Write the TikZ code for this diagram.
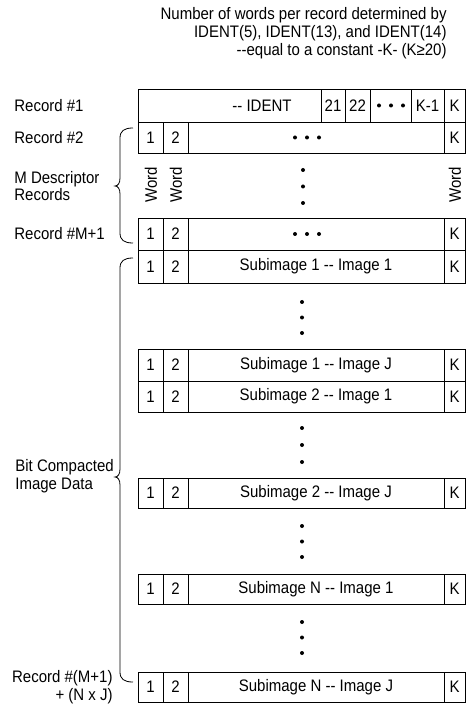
\documentclass[tikz,border=0pt]{standalone}
\usepackage{fontspec}
\setmainfont{Liberation Sans}[FakeStretch=0.9]
% one table cell: name, x1, x2, y1, y2, text
\newcommand\cellat[6]{%
  \node[cellbox, minimum width={(#3-#2)*0.75pt}, minimum height={(#5-#4)*0.75pt}]
    (#1) at ({(#2+#3)/2},{(#4+#5)/2}) {#6};}
% a record row with words 1, 2, ..., K
\newcommand\recrow[4]{%
  \cellat{#1a}{138}{163}{#2}{#3}{1}
  \cellat{#1b}{163}{188}{#2}{#3}{2}
  \cellat{#1m}{188}{444}{#2}{#3}{#4}
  \cellat{#1k}{444}{465}{#2}{#3}{K}}
% three dots in a row / in a column
\newcommand\rowdots[3]{%
  \node[dotmark] (#1l) at ({#2-12},#3) {};
  \node[dotmark] (#1c) at (#2,#3) {};
  \node[dotmark] (#1r) at ({#2+12},#3) {};}
\newcommand\coldots[4]{%
  \node[dotmark] (#1t) at (#2,#3) {};
  \node[dotmark] (#1c) at (#2,{(#3+#4)/2}) {};
  \node[dotmark] (#1b) at (#2,#4) {};}
\begin{document}
\begin{tikzpicture}[x=0.75pt,y=-0.75pt,line width=0.6pt,
  txt/.style={inner sep=0pt,font=\fontsize{12.5}{13.3}\selectfont},
  cellbox/.style={draw,rectangle,txt},
  lbl/.style={txt,anchor=west,align=left},
  dotmark/.style={circle,fill,inner sep=0pt,minimum size=3pt}]
\useasboundingbox (0,0) rectangle (467,705);

% heading
\node[txt,anchor=east,align=right] (head) at (447,33)
  {Number of words per record determined by\\
   IDENT(5), IDENT(13), and IDENT(14)\\
   {-}{-}equal to a constant -K- (K≥20)};

% record 1 (identification record)
\cellat{r1main}{138}{321}{89}{122}{}
\node[txt] (ident) at (262,105.5) {{-}{-} IDENT};
\cellat{r1w21}{321}{345}{89}{122}{21}
\cellat{r1w22}{345}{370}{89}{122}{22}
\cellat{r1dots}{370}{411}{89}{122}{}
\rowdots{d1}{391}{105.5}
\cellat{r1km}{411}{444}{89}{122}{K-1}
\cellat{r1k}{444}{465}{89}{122}{K}

% descriptor records
\recrow{r2}{122}{153}{}
\rowdots{d2}{307}{137.5}
\node[txt,rotate=90] (word1) at (151,185) {Word};
\node[txt,rotate=90] (word2) at (176,185) {Word};
\node[txt,rotate=90] (wordk) at (455,185) {Word};
\coldots{v1}{303}{170}{203}
\recrow{rm}{218}{250}{}
\rowdots{d3}{307}{234}

% image data records
\recrow{s11}{250}{283}{Subimage 1 {-}{-} Image 1}
\coldots{v2}{302}{302}{333}
\recrow{s1j}{349}{381}{Subimage 1 {-}{-} Image J}
\recrow{s21}{381}{412}{Subimage 2 {-}{-} Image 1}
\coldots{v3}{302}{428}{462}
\recrow{s2j}{478}{508}{Subimage 2 {-}{-} Image J}
\coldots{v4}{302}{526}{557}
\recrow{sn1}{574}{604}{Subimage N {-}{-} Image 1}
\coldots{v5}{302}{622}{653}
\recrow{snj}{672}{702}{Subimage N {-}{-} Image J}

% labels on the left
\node[lbl] (lr1) at (14,105.5) {Record \#1};
\node[lbl] (lr2) at (14,138) {Record \#2};
\node[lbl] (lmd) at (14,186) {M Descriptor\\Records};
\node[lbl] (lrm) at (14,234) {Record \#M+1};
\node[lbl] (lbc) at (15,476.5) {Bit Compacted\\Image Data};
\node[txt,anchor=east,align=right] (lrl) at (113,687) {Record \#(M+1)\\+ (N x J)};

% braces
\draw (133,128) .. controls (124,128) and (120,131) .. (120,138)
  -- (120,178) .. controls (120,183) and (118,186) .. (115,186)
  .. controls (118,186) and (120,189) .. (120,194)
  -- (120,233) .. controls (120,240) and (124,243) .. (133,243);
\draw (133,258) .. controls (124,258) and (120,261) .. (120,268)
  -- (120,469) .. controls (120,474) and (118,477) .. (115,477)
  .. controls (118,477) and (120,480) .. (120,485)
  -- (120,672) .. controls (120,679) and (124,682) .. (133,682);
\end{tikzpicture}
\end{document}
